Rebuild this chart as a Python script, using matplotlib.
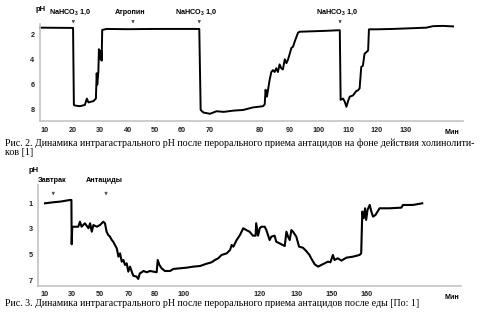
import matplotlib
matplotlib.use('Agg')
import matplotlib.pyplot as plt

params = {'mathtext.default': 'regular',
          'font.family': 'sans-serif',
          'font.sans-serif': ['Liberation Sans', 'DejaVu Sans'],
          'font.size': 5}
plt.rcParams.update(params)

# --- Рис. 2 (time in chart units, pH) ---
t1 = [8.2, 20.2, 20.5, 20.9, 22.7, 24.5, 25.2, 25.8, 27.6, 28.5, 28.8, 29.0, 29.4,
      29.6, 30.0, 30.4, 30.6, 30.8, 32.4, 40.0, 50.0, 58.0, 66.1, 66.6, 67.6, 70.0,
      72.4, 75.0, 78.5, 82.0, 85.6, 89.3, 89.9, 90.2, 90.7, 91.7, 92.3, 92.9, 93.5,
      94.1, 94.7, 95.3, 95.9, 96.5, 97.2, 97.8, 98.4, 99.6, 100.2, 100.8, 102.0,
      102.6, 108.0, 112.0, 117.2, 117.5, 118.4, 119.0, 119.6, 120.2, 120.8, 122.0,
      123.2, 123.8, 124.4, 125.0, 125.6, 126.2, 126.8, 127.5, 127.8, 130.5, 136.5,
      142.6, 148.7, 151.1, 154.7, 158.4]
ph1 = [1.5, 1.52, 7.6, 7.65, 7.7, 7.6, 7.1, 7.4, 7.3, 7.1, 5.1, 6.0, 5.0,
       3.2, 4.0, 3.3, 4.1, 1.68, 1.6, 1.62, 1.6, 1.6, 1.6, 8.0, 8.2, 8.3,
       8.1, 8.15, 8.05, 8.0, 7.8, 7.7, 7.55, 6.4, 6.95, 5.6, 5.0, 4.85, 5.0,
       4.7, 5.0, 4.4, 4.7, 4.8, 4.0, 4.3, 4.0, 3.1, 3.0, 2.6, 1.9,
       1.82, 1.78, 1.75, 1.7, 7.2, 7.1, 7.35, 7.75, 7.3, 6.95, 6.85,
       6.5, 6.45, 6.3, 4.6, 4.5, 3.55, 3.45, 3.3, 1.63, 1.63, 1.6,
       1.55, 1.5, 1.38, 1.36, 1.4]
ticks1 = [10, 20.1, 30, 40.1, 50, 59.9, 70, 88.1, 99.0, 109.6, 120.2, 130.5, 141.2]
labels1 = ['10', '20', '30', '40', '50', '60', '70', '80', '90', '100', '110', '120', '130']
events1 = [(20.3, 'NaHCO$_3$ 1,0'), (42.0, 'Атропин'), (66.1, 'NaHCO$_3$ 1,0'),
           (117.3, 'NaHCO$_3$ 1,0')]

# --- Рис. 3 ---
t2 = [10.0, 13.0, 15.5, 19.1, 19.6, 19.7, 19.9, 20.3, 22.1, 22.7,
      23.3, 24.5, 25.8, 26.4, 27.0, 27.6, 28.8, 30.0, 31.2, 31.8,
      32.4, 33.0, 33.6, 34.3, 34.8, 36.1, 36.7, 37.3, 37.9, 38.5,
      39.1, 39.7, 40.3, 40.9, 42.1, 43.3, 43.9, 44.5, 45.2, 45.8,
      47.0, 48.2, 49.4, 50.6, 51.0, 51.6, 52.4, 53.6, 55.5, 56.7,
      59.1, 61.5, 63.9, 66.4, 68.8, 70.6, 71.8, 73.0, 74.2, 76.1,
      77.3, 77.9, 78.5, 79.7, 80.9, 82.1, 83.2, 84.4, 85.6, 86.6,
      86.8, 87.5, 88.1, 88.7, 89.9, 90.5, 91.7, 92.3, 93.5, 94.1,
      95.3, 97.2, 97.8, 98.4, 99.0, 99.6, 100.2, 101.4, 102.4, 103.8,
      105.0, 106.2, 106.8, 108.1, 109.3, 110.5, 111.7, 112.9, 113.8, 114.7,
      115.3, 116.5, 117.8, 119.6, 122.0, 124.4, 125.0, 125.4, 125.9, 126.4,
      126.8, 127.3, 128.1, 128.7, 129.3, 130.2, 131.7, 135.3, 139.6, 140.2,
      143.8, 147.2]
ph2 = [1.0, 0.92, 0.87, 0.74, 0.74, 4.2, 2.9, 2.83, 2.83, 2.44,
       2.83, 2.56, 2.95, 2.56, 3.22, 2.7, 2.83, 2.7, 2.44, 2.56,
       3.22, 3.48, 3.6, 3.87, 4.0, 4.52, 5.17, 4.91, 5.56, 5.43,
       5.82, 5.69, 6.34, 5.95, 6.66, 6.73, 6.91, 6.47, 6.39, 6.29,
       6.39, 6.29, 6.34, 6.39, 5.43, 5.82, 6.08, 6.29, 6.29, 6.13,
       6.08, 6.03, 5.95, 5.9, 5.72, 5.61, 5.43, 5.3, 5.04, 4.91,
       4.65, 4.26, 4.39, 3.87, 3.48, 2.95, 3.09, 3.22, 3.53, 3.53,
       2.56, 3.53, 2.95, 2.83, 2.83, 3.09, 3.87, 3.61, 3.53, 4.0,
       4.13, 4.34, 3.22, 3.61, 3.87, 3.09, 3.22, 3.61, 4.39, 4.47,
       4.73, 5.04, 5.3, 5.77, 5.95, 5.82, 5.69, 5.56, 5.61, 5.04,
       5.43, 5.3, 5.48, 5.25, 5.17, 5.04, 4.91, 1.65, 2.17, 1.39,
       2.3, 1.52, 1.13, 1.65, 2.04, 1.91, 1.39, 1.39, 1.34, 1.13,
       1.13, 1.0]
ticks2 = [10, 19.7, 30, 40.3, 50, 60.3, 88.1, 101.4, 114.1, 126.8]
labels2 = ['10', '30', '50', '70', '80', '100', '120', '130', '150', '160']
events2 = [(13.0, 'Завтрак'), (32.2, 'Антациды')]

caption1 = ('Рис. 2. Динамика интрагастрального pH после перорального приема '
            'антацидов на фоне действия холинолити-\nков [1]')
caption2 = 'Рис. 3. Динамика интрагастрального pH после перорального приема антацидов после еды [По: 1]'

W, H = 486, 328
fig = plt.figure(figsize=(W / 100, H / 100), dpi=100)


def px_box(left, top, right, bottom):
    return [left / W, 1 - bottom / H, (right - left) / W, (bottom - top) / H]


def style(ax, ticks, labels, yticks):
    for s in ['top', 'right']:
        ax.spines[s].set_visible(False)
    for s in ['left', 'bottom']:
        ax.spines[s].set_color('#c4c4c4')
        ax.spines[s].set_linewidth(1.2)
    ax.set_xticks(ticks)
    ax.set_xticklabels(labels, fontweight='bold')
    ax.set_yticks(yticks)
    ax.set_yticklabels([str(v) for v in yticks], fontweight='bold')
    ax.tick_params(length=0, labelsize=5.2, pad=4, labelcolor='#222222')
    ax.text(157.8, -0.085, 'Мин', transform=ax.get_xaxis_transform(),
            ha='center', va='top', fontsize=5.2, fontweight='bold')


arrow = dict(arrowstyle='-|>', color='#555555', lw=0.6, mutation_scale=4)

ax1 = fig.add_axes(px_box(40, 24, 463, 121))
ax1.plot(t1, ph1, c='k', lw=1.4, clip_on=False)
ax1.set_xlim(8.18, 162.0)
ax1.set_ylim(8.87, 1.21)
style(ax1, ticks1, labels1, [2, 4, 6, 8])
ax1.text(8.5, 0.1, 'pH', ha='center', va='center', fontsize=5.5, fontweight='bold')
for x, name in events1:
    ax1.annotate('', xy=(x, 1.4), xytext=(x, 0.7), arrowprops=arrow,
                 annotation_clip=False)
    ax1.text(x - 1.2, 0.32, name, ha='center', va='center', fontsize=5.2,
             fontweight='bold')

ax2 = fig.add_axes(px_box(38, 185, 461, 285.7))
ax2.plot(t2, ph2, c='k', lw=1.5, clip_on=False)
ax2.set_xlim(7.45, 161.3)
ax2.set_ylim(7.44, -0.43)
style(ax2, ticks2, labels2, [1, 3, 5, 7])
ax2.text(6.0, -1.6, 'pH', ha='center', va='center', fontsize=5.5, fontweight='bold')
for x, name in events2:
    ax2.annotate('', xy=(x, 0.6), xytext=(x, -0.05), arrowprops=arrow,
                 annotation_clip=False)
    ax2.text(x - 0.5, -0.82, name, ha='center', va='center', fontsize=5.2,
             fontweight='bold')

fig.text(5 / W, 1 - 138.5 / H, caption1, ha='left', va='top', fontsize=7.2,
         family='Liberation Serif', linespacing=0.95)
fig.text(5 / W, 1 - 299 / H, caption2, ha='left', va='top', fontsize=7.2,
         family='Liberation Serif')

fig.savefig('out.png', dpi=100)
